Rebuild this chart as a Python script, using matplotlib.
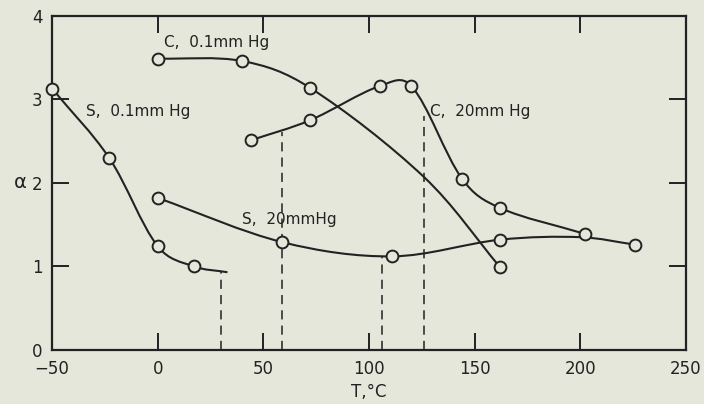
import matplotlib
matplotlib.use('Agg')
import matplotlib.pyplot as plt
from matplotlib.path import Path
from matplotlib.patches import PathPatch

# Marker points (T in °C, alpha)
s01_T = [-50, -23, 0, 17]
s01_a = [3.13, 2.30, 1.24, 1.00]
s01_line_T = [-50, -23, 0, 17, 33]
s01_line_a = [3.13, 2.30, 1.24, 1.00, 0.93]

c01_T = [0, 40, 72, 162]
c01_a = [3.49, 3.46, 3.14, 0.99]
c01_line_T = [0, 40, 72, 126, 162]
c01_line_a = [3.49, 3.46, 3.14, 2.07, 0.99]

c20_T = [44, 72, 105, 120, 144, 162, 202]
c20_a = [2.51, 2.75, 3.16, 3.16, 2.05, 1.70, 1.39]

s20_T = [0, 59, 111, 162, 226]
s20_a = [1.82, 1.29, 1.12, 1.32, 1.26]
s20_line_T = [0, 59, 111, 162, 200, 226]
s20_line_a = [1.82, 1.29, 1.12, 1.32, 1.35, 1.26]

# dashed drop lines (T, top alpha)
drop_T = [30, 59, 106, 126]
drop_a = [0.93, 2.61, 1.11, 2.80]

bg = '#e6e7db'
ink = '#222222'


def smooth_path(xs, ys, sx=2.12, sy=83.5):
    # centripetal Catmull-Rom drawn as cubic Bezier segments
    n = len(xs)
    t = [0.0]
    for i in range(1, n):
        d = ((sx * (xs[i] - xs[i - 1])) ** 2 + (sy * (ys[i] - ys[i - 1])) ** 2) ** 0.5
        t.append(t[-1] + d ** 0.5)
    mx, my = [], []
    for i in range(n):
        a = max(i - 1, 0)
        b = min(i + 1, n - 1)
        mx.append((xs[b] - xs[a]) / (t[b] - t[a]))
        my.append((ys[b] - ys[a]) / (t[b] - t[a]))
    verts = [(xs[0], ys[0])]
    codes = [Path.MOVETO]
    for i in range(n - 1):
        h = (t[i + 1] - t[i]) / 3
        verts += [(xs[i] + mx[i] * h, ys[i] + my[i] * h),
                  (xs[i + 1] - mx[i + 1] * h, ys[i + 1] - my[i + 1] * h),
                  (xs[i + 1], ys[i + 1])]
        codes += [Path.CURVE4] * 3
    return Path(verts, codes)


fig = plt.figure(figsize=(7.04, 4.04), dpi=100, facecolor=bg)
ax = fig.add_axes([0.074, 0.134, 0.9005, 0.8265], facecolor=bg)

for xs, ys in [(s01_line_T, s01_line_a), (c01_line_T, c01_line_a),
               (c20_T, c20_a), (s20_line_T, s20_line_a)]:
    ax.add_patch(PathPatch(smooth_path(xs, ys), fill=False, lw=1.5,
                           edgecolor=ink, zorder=2))

for xs, ys in [(s01_T, s01_a), (c01_T, c01_a), (c20_T, c20_a), (s20_T, s20_a)]:
    ax.plot(xs, ys, ls='none', marker='o', ms=8.5, mfc=bg, mec=ink,
            mew=1.4, zorder=3, clip_on=False)

for t, a in zip(drop_T, drop_a):
    ax.plot([t, t], [0, a], color=ink, lw=1.1, ls=(0, (6, 4)), zorder=1)

ax.text(3, 3.68, 'C,  0.1mm Hg', fontsize=11, color=ink, va='center')
ax.text(-34, 2.86, 'S,  0.1mm Hg', fontsize=11, color=ink, va='center')
ax.text(129, 2.85, 'C,  20mm Hg', fontsize=11, color=ink, va='center')
ax.text(40, 1.56, 'S,  20mmHg', fontsize=11, color=ink, va='center')

ax.set_xlim(-50, 250)
ax.set_ylim(0, 4)
ax.set_xticks([-50, 0, 50, 100, 150, 200, 250])
ax.set_yticks([0, 1, 2, 3, 4])
ax.tick_params(direction='in', length=12, width=1.4, colors=ink,
               labelsize=12, pad=7, top=True, right=True)

ax.set_xlabel('T,°C', fontsize=12, color=ink, labelpad=4)
ax.set_ylabel('α', fontsize=14, color=ink, rotation=0, labelpad=8, va='center')

for s in ax.spines.values():
    s.set_linewidth(1.6)
    s.set_color(ink)

fig.savefig('out.png', dpi=100, facecolor=bg)
